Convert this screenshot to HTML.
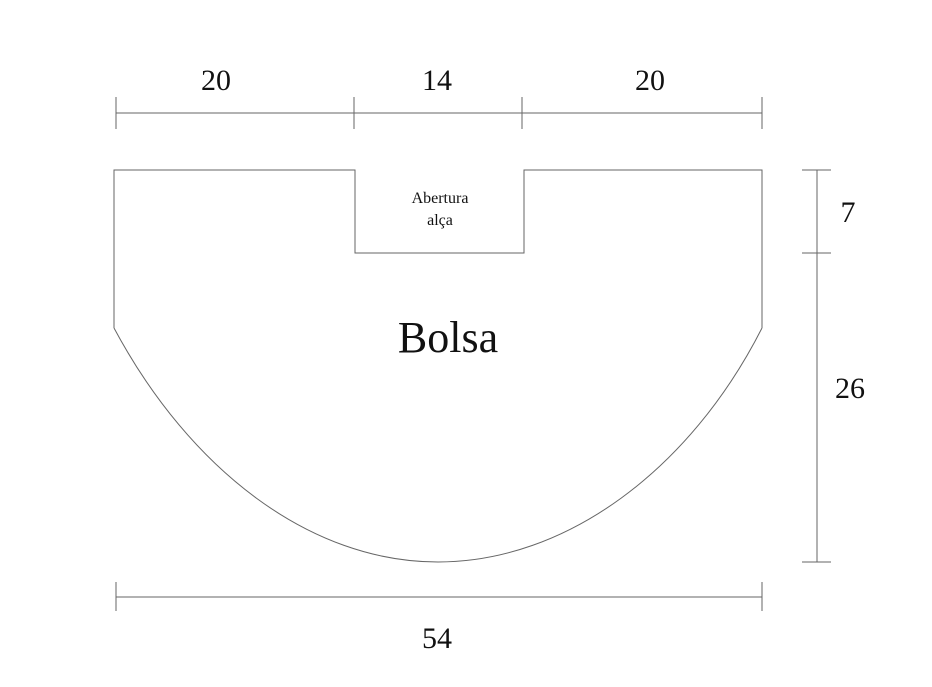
<!DOCTYPE html>
<html><head><style>
html,body{margin:0;padding:0;background:#fff;}
svg{display:block}
text{font-family:"Liberation Serif",serif;fill:#111}
</style></head><body>
<svg width="932" height="687" viewBox="0 0 932 687" xmlns="http://www.w3.org/2000/svg">
<g stroke="#666" stroke-width="1" fill="none">
<line x1="116" y1="113" x2="762" y2="113"/>
<line x1="116" y1="97" x2="116" y2="129"/>
<line x1="354" y1="97" x2="354" y2="129"/>
<line x1="522" y1="97" x2="522" y2="129"/>
<line x1="762" y1="97" x2="762" y2="129"/>
<path d="M114,328 L114,170 L355,170 L355,253 L524,253 L524,170 L762,170 L762,328"/>
<path d="M114,328 C190,470 310,562 438,562 C566,562 690,470 762,328"/>
<line x1="817" y1="170" x2="817" y2="562"/>
<line x1="802" y1="170" x2="831" y2="170"/>
<line x1="802" y1="253" x2="831" y2="253"/>
<line x1="802" y1="562" x2="831" y2="562"/>
<line x1="116" y1="597" x2="762" y2="597"/>
<line x1="116" y1="582" x2="116" y2="611"/>
<line x1="762" y1="582" x2="762" y2="611"/>
</g>
<text x="216" y="90" font-size="30" text-anchor="middle">20</text>
<text x="437" y="90" font-size="30" text-anchor="middle">14</text>
<text x="650" y="90" font-size="30" text-anchor="middle">20</text>
<text x="440" y="203" font-size="16" text-anchor="middle">Abertura</text>
<text x="440" y="225" font-size="16" text-anchor="middle">alça</text>
<text x="448" y="352" font-size="44" text-anchor="middle">Bolsa</text>
<text x="848" y="222" font-size="30" text-anchor="middle">7</text>
<text x="850" y="398" font-size="30" text-anchor="middle">26</text>
<text x="437" y="648" font-size="30" text-anchor="middle">54</text>
</svg>
</body></html>
